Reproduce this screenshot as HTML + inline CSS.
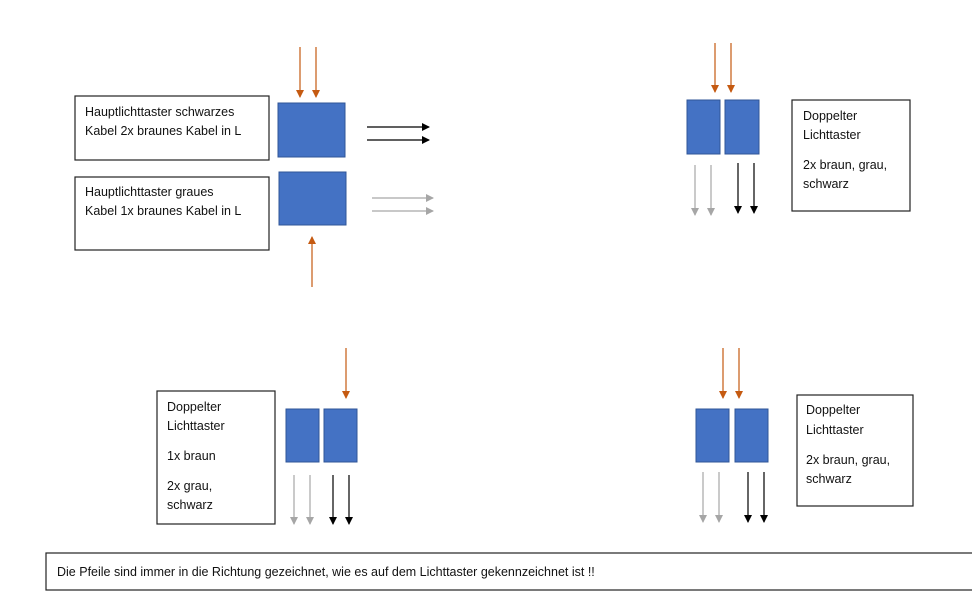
<!DOCTYPE html>
<html><head><meta charset="utf-8"><style>
html,body{margin:0;padding:0;background:#fff;}
svg{display:block;}
text{font-family:"Liberation Sans",sans-serif;font-size:12.5px;fill:#111;}
</style></head><body>
<svg width="972" height="605" viewBox="0 0 972 605" xmlns="http://www.w3.org/2000/svg">
<defs>
<marker id="o" markerWidth="8" markerHeight="8" refX="7" refY="4" orient="auto" markerUnits="userSpaceOnUse"><path d="M0,0 L8,4 L0,8 Z" fill="#c55a11"/></marker>
<marker id="k" markerWidth="8" markerHeight="8" refX="7" refY="4" orient="auto" markerUnits="userSpaceOnUse"><path d="M0,0 L8,4 L0,8 Z" fill="#000"/></marker>
<marker id="g" markerWidth="8" markerHeight="8" refX="7" refY="4" orient="auto" markerUnits="userSpaceOnUse"><path d="M0,0 L8,4 L0,8 Z" fill="#a6a6a6"/></marker>
</defs>
<g fill="#4472c4" stroke="#2f5597" stroke-width="1">
<rect x="278" y="103" width="67" height="54"/>
<rect x="279" y="172" width="67" height="53"/>
<rect x="687" y="100" width="33" height="54"/>
<rect x="725" y="100" width="34" height="54"/>
<rect x="286" y="409" width="33" height="53"/>
<rect x="324" y="409" width="33" height="53"/>
<rect x="696" y="409" width="33" height="53"/>
<rect x="735" y="409" width="33" height="53"/>
</g>
<g fill="#fff" stroke="#222" stroke-width="1.2">
<rect x="75" y="96" width="194" height="64"/>
<rect x="75" y="177" width="194" height="73"/>
<rect x="792" y="100" width="118" height="111"/>
<rect x="157" y="391" width="118" height="133"/>
<rect x="797" y="395" width="116" height="111"/>
<rect x="46" y="553" width="930" height="37"/>
</g>
<g stroke-width="1.2">
<g stroke="#c55a11" marker-end="url(#o)">
<line x1="300" y1="47" x2="300" y2="97"/>
<line x1="316" y1="47" x2="316" y2="97"/>
<line x1="312" y1="287" x2="312" y2="237"/>
<line x1="715" y1="43" x2="715" y2="92"/>
<line x1="731" y1="43" x2="731" y2="92"/>
<line x1="346" y1="348" x2="346" y2="398"/>
<line x1="723" y1="348" x2="723" y2="398"/>
<line x1="739" y1="348" x2="739" y2="398"/>
</g>
<g stroke="#000" marker-end="url(#k)">
<line x1="367" y1="127" x2="429" y2="127"/>
<line x1="367" y1="140" x2="429" y2="140"/>
<line x1="738" y1="163" x2="738" y2="213"/>
<line x1="754" y1="163" x2="754" y2="213"/>
<line x1="333" y1="475" x2="333" y2="524"/>
<line x1="349" y1="475" x2="349" y2="524"/>
<line x1="748" y1="472" x2="748" y2="522"/>
<line x1="764" y1="472" x2="764" y2="522"/>
</g>
<g stroke="#a6a6a6" marker-end="url(#g)">
<line x1="372" y1="198" x2="433" y2="198"/>
<line x1="372" y1="211" x2="433" y2="211"/>
<line x1="695" y1="165" x2="695" y2="215"/>
<line x1="711" y1="165" x2="711" y2="215"/>
<line x1="294" y1="475" x2="294" y2="524"/>
<line x1="310" y1="475" x2="310" y2="524"/>
<line x1="703" y1="472" x2="703" y2="522"/>
<line x1="719" y1="472" x2="719" y2="522"/>
</g>
</g>
<text x="85" y="116">Hauptlichttaster schwarzes</text>
<text x="85" y="135">Kabel 2x braunes Kabel in L</text>
<text x="85" y="196">Hauptlichttaster graues</text>
<text x="85" y="215">Kabel 1x braunes Kabel in L</text>
<text x="803" y="120">Doppelter</text>
<text x="803" y="139">Lichttaster</text>
<text x="803" y="169">2x braun, grau,</text>
<text x="803" y="188">schwarz</text>
<text x="167" y="411">Doppelter</text>
<text x="167" y="430">Lichttaster</text>
<text x="167" y="460">1x braun</text>
<text x="167" y="490">2x grau,</text>
<text x="167" y="509">schwarz</text>
<text x="806" y="414">Doppelter</text>
<text x="806" y="434">Lichttaster</text>
<text x="806" y="464">2x braun, grau,</text>
<text x="806" y="483">schwarz</text>
<text x="57" y="576">Die Pfeile  sind immer in die Richtung gezeichnet, wie es auf dem Lichttaster gekennzeichnet ist !!</text>
</svg>
</body></html>
